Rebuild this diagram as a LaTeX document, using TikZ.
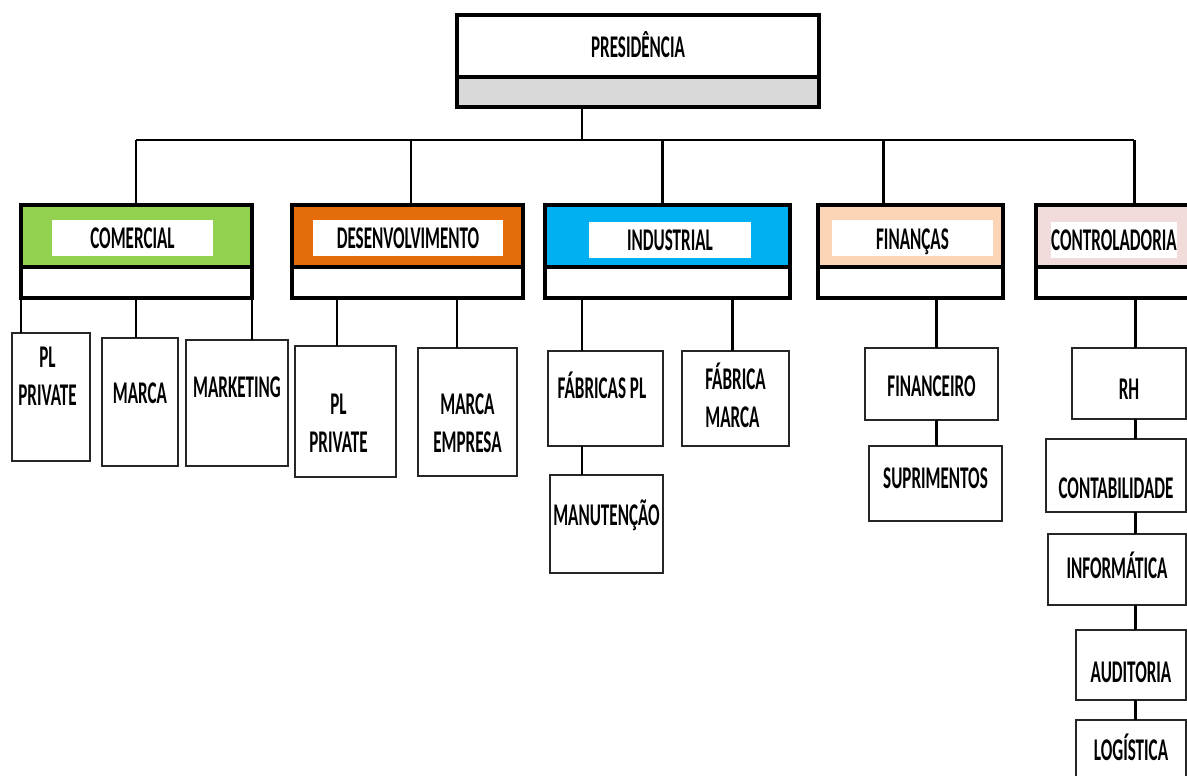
\documentclass[tikz,border=0pt]{standalone}
\usepackage{fontspec}
\setmainfont{Carlito}[FakeStretch=0.54]
\usetikzlibrary{fit}

\definecolor{verde}{HTML}{92D050}
\definecolor{laranja}{HTML}{E46C0A}
\definecolor{azul}{HTML}{00B0F0}
\definecolor{pessego}{HTML}{FBD5B5}
\definecolor{rosa}{HTML}{F2DCDB}
\definecolor{cinza}{HTML}{D9D9D9}

\tikzset{
  txt/.style={font=\fontsize{18}{21.5}\selectfont\bfseries, align=center, inner sep=0pt},
  dept/.style={draw, line width=2.3pt, inner sep=0pt, outer sep=0pt},
  lbl/.style={fill=white, inner sep=0pt, outer sep=0pt},
  unit/.style={draw=black!85, line width=1.1pt, fill=white, inner sep=0pt, outer sep=0pt},
  link/.style={line width=1.7pt},
}

\begin{document}
\begin{tikzpicture}[x=0.02cm, y=-0.02cm]
\useasboundingbox (0,0) rectangle (1187,776);
\clip (0,0) rectangle (1187,776);

% presidencia
\node[dept, fill=white, fit={(457,15) (819,77)}, label={[txt,yshift=1pt]center:PRESIDÊNCIA}] (pres) {};
\node[dept, fill=cinza, fit={(457,77) (819,107)}] (pressub) {};

% diretorias
\node[dept, fill=verde, fit={(21,205) (252,267)}] (com) {};
\node[dept, fill=white, fit={(21,267) (252,298)}] (comsub) {};
\node[lbl, fit={(52,220) (213,256)}, label={[txt]center:COMERCIAL}] (comlbl) {};

\node[dept, fill=laranja, fit={(292,205) (523,267)}] (des) {};
\node[dept, fill=white, fit={(292,267) (523,298)}] (dessub) {};
\node[lbl, fit={(313,220) (503,256)}, label={[txt]center:DESENVOLVIMENTO}] (deslbl) {};

\node[dept, fill=azul, fit={(545,205) (790,267)}] (ind) {};
\node[dept, fill=white, fit={(545,267) (790,298)}] (indsub) {};
\node[lbl, fit={(589,222) (751,258)}, label={[txt]center:INDUSTRIAL}] (indlbl) {};

\node[dept, fill=pessego, fit={(818,205) (1003,267)}] (fin) {};
\node[dept, fill=white, fit={(818,267) (1003,298)}] (finsub) {};
\node[lbl, fit={(832,220) (993,256)}, label={[txt,yshift=-2pt]center:FINANÇAS}] (finlbl) {};

\node[dept, fill=rosa, fit={(1036,205) (1232,267)}] (con) {};
\node[dept, fill=white, fit={(1036,267) (1232,298)}] (consub) {};
\node[lbl, fit={(1051,222) (1177,258)}, label={[txt]center:CONTROLADORIA}] (conlbl) {};

% comercial
\node[unit, fit={(12,333) (90,461)}, label={[txt,xshift=-2pt,yshift=12pt]center:PL\\PRIVATE}] (cpl) {};
\node[unit, fit={(102,338) (178,466)}, label={[txt,yshift=5pt]center:MARCA}] (cmarca) {};
\node[unit, fit={(186,340) (288,466)}, label={[txt,yshift=9pt]center:MARKETING}] (cmkt) {};

% desenvolvimento
\node[unit, fit={(295,346) (396,477)}, label={[txt,xshift=-4pt,yshift=-6.5pt]center:PL\\PRIVATE}] (dpl) {};
\node[unit, fit={(418,348) (517,476)}, label={[txt,yshift=-6.5pt]center:MARCA\\EMPRESA}] (dmarca) {};

% industrial
\node[unit, fit={(548,351) (663,446)}, label={[txt,xshift=-2pt,yshift=7.5pt]center:FÁBRICAS PL}] (ifpl) {};
\node[unit, fit={(682,351) (789,446)}, label={[txt,align=left,yshift=2pt]center:FÁBRICA\\MARCA}] (ifm) {};
\node[unit, fit={(550,475) (663,573)}, label={[txt,yshift=5pt]center:MANUTENÇÃO}] (iman) {};

% financas
\node[unit, fit={(865,348) (998,420)}, label={[txt,yshift=-1pt]center:FINANCEIRO}] (ffin) {};
\node[unit, fit={(869,446) (1002,521)}, label={[txt,yshift=3pt]center:SUPRIMENTOS}] (fsup) {};

% controladoria
\node[unit, fit={(1072,348) (1186,419)}, label={[txt,yshift=-3.5pt]center:RH}] (crh) {};
\node[unit, fit={(1046,439) (1186,512)}, label={[txt,yshift=-7pt]center:CONTABILIDADE}] (ccont) {};
\node[unit, fit={(1048,534) (1186,605)}, label={[txt,yshift=2.5pt]center:INFORMÁTICA}] (cinf) {};
\node[unit, fit={(1076,630) (1186,700)}, label={[txt,yshift=-4pt]center:AUDITORIA}] (caud) {};
\node[unit, fit={(1076,720) (1186,800)}, label={[txt,yshift=7pt]center:LOGÍSTICA}] (clog) {};

% ligacoes
\coordinate (busT) at (582,140);
\coordinate (busL) at (136,140);
\coordinate (busR) at (1134,140);
\draw[link] (busT |- pressub.south) -- (busT);
\draw[link] (busL) -- (busR);
\foreach \n/\x in {com/136, des/411, ind/662, fin/883, con/1134}
  \draw[link] (\x,140) -- (\n.north -| \x,0);

\foreach \a/\b/\x in {comsub/cpl/21, comsub/cmarca/136, comsub/cmkt/252,
    dessub/dpl/337, dessub/dmarca/457,
    indsub/ifpl/582, indsub/ifm/732, ifpl/iman/582,
    finsub/ffin/936, ffin/fsup/936,
    consub/crh/1135, crh/ccont/1135, ccont/cinf/1135, cinf/caud/1135, caud/clog/1135}
  \draw[link] (\a.south -| \x,0) -- (\b.north -| \x,0);
\end{tikzpicture}
\end{document}
